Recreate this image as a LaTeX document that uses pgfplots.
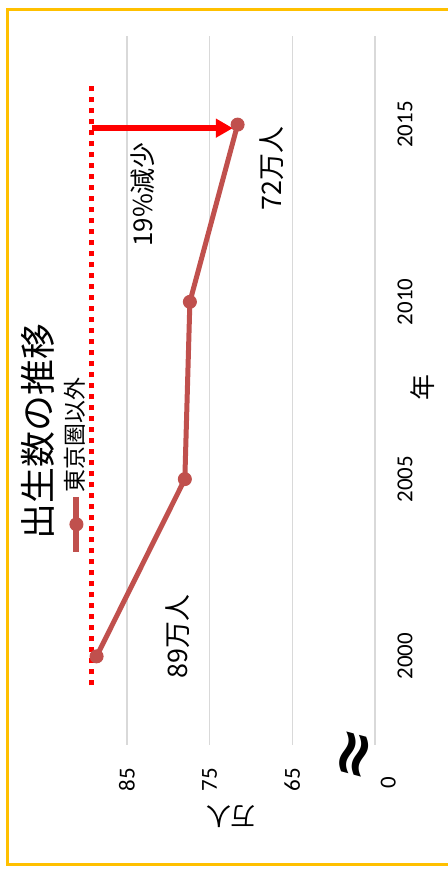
\documentclass[border=0pt]{standalone}
\usepackage{fontspec}
\setmainfont{Noto Sans CJK JP}
\newfontfamily\calfont{Carlito}
\newfontfamily\dvfont{DejaVu Sans}
\usepackage{pgfplots}
\pgfplotsset{compat=1.18}
\usetikzlibrary{arrows.meta}
\definecolor{lred}{HTML}{C0504D}
\definecolor{bord}{HTML}{FFC000}
\definecolor{grd}{HTML}{D9D9D9}
\begin{document}
\begin{tikzpicture}
\path[use as bounding box] (0,0) rectangle (448bp,881bp);
\draw[bord, line width=3bp] (448bp,871.5bp) -- (7bp,871.5bp) -- (7bp,16bp) -- (448bp,16bp);
\begin{axis}[
  at={(85.5bp,136bp)}, anchor=south west, scale only axis,
  width=289.5bp, height=709bp,
  x dir=reverse, xmin=55, xmax=90, ymin=1997.5, ymax=2017.5,
  clip=false,
  axis line style={draw=none},
  major tick length=0pt,
  xtick={55,65,75,85}, xticklabels={,65,75,85},
  ytick={2000,2005,2010,2015}, yticklabels={2000,2005,2010,2015},
  yticklabel pos=right,
  xmajorgrids, ymajorgrids=false,
  grid style={grd, line width=1.5bp},
  /pgf/number format/assume math mode=true,
  ticklabel style={font=\calfont\fontsize{23}{23}\selectfont, rotate=90, anchor=center},
  xticklabel shift=35bp, yticklabel shift=30bp,
  legend style={at={(axis cs:91.29,2006.25)}, anchor=center, draw=none, fill=none,
    inner sep=0pt, outer sep=0pt, column sep=0pt,
    font=\fontsize{23}{23}\selectfont, nodes={rotate=90, anchor=center, inner sep=0pt}},
  legend image code/.code={\draw[overlay,mark repeat=2,mark phase=2,#1,line width=6bp] plot coordinates {(12bp,-62bp) (12bp,-89.5bp) (12bp,-117bp)};},
]
\addplot[red, line width=5bp, dash pattern=on 5bp off 6bp, forget plot] coordinates {(89.23,1999.18) (89.23,2016.15)};
\addplot[red, line width=5.5bp, -{Triangle[length=17bp,width=18bp]}, forget plot] coordinates {(89.23,2014.9) (72.18,2014.9)};
\addplot[lred, line width=5bp, mark=*, mark size=6.5bp, mark options={solid, fill=lred, draw=lred, line width=1bp}] coordinates {(88.66,2000) (77.99,2005) (77.38,2010) (71.61,2015)};
\addlegendentry{東京圏以外}
\node[rotate=90, font=\fontsize{36}{36}\selectfont] at (axis cs:95.76,2006.34) {出生数の推移};
\node[rotate=90, font=\fontsize{27}{27}\selectfont] at (axis cs:78.83,2000.56) {89万人};
\node[rotate=90, font=\fontsize{27}{27}\selectfont] at (axis cs:67.47,2013.76) {72万人};
\node[rotate=90, font=\fontsize{26}{26}\selectfont] at (axis cs:83.07,2013.03) {19\%減少};
\node[rotate=90, font=\fontsize{26}{26}\selectfont] at (axis cs:49.2,2007.58) {年};
\node[rotate=180, font=\fontsize{25}{25}\selectfont] at (axis cs:72.4,1995.49) {万人};
\node[rotate=90, font=\calfont\fontsize{23}{23}\selectfont] at (axis cs:53.4,1996.45) {0};
\node[rotate=75, font=\dvfont\bfseries\fontsize{64}{64}\selectfont] at (axis cs:57.1,1997.2) {≈};
\end{axis}
\end{tikzpicture}
\end{document}
